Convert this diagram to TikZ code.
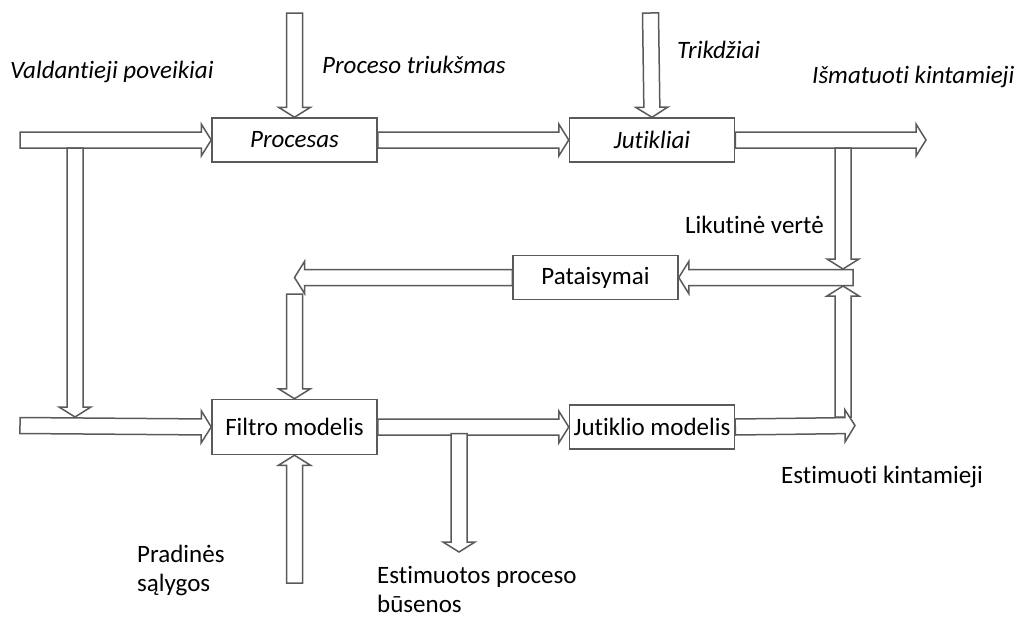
\documentclass[tikz,border=0pt]{standalone}
\usepackage{fontspec}
\setmainfont{Carlito}[Ligatures=NoCommon]
\usepackage{xcolor}
\usetikzlibrary{positioning,calc}
\definecolor{linegray}{HTML}{5A5A5A}
\def\shw{8pt}
\def\hdw{16pt}
\def\hdl{10pt}
\tikzset{%
	block/.style    = {draw=linegray, line width=1.5pt, fill=white, rectangle,
		minimum height = 44pt, minimum width = 165pt, inner sep=0pt},
	blockarrow/.style = {draw=linegray, line width=1.5pt, fill=white, line join=miter,
		to path={($(\tikztostart)!\shw!90:(\tikztotarget)$)
			-- ($($(\tikztotarget)!\hdl!(\tikztostart)$)!\shw!90:(\tikztotarget)$)
			-- ($($(\tikztotarget)!\hdl!(\tikztostart)$)!\hdw!90:(\tikztotarget)$)
			-- (\tikztotarget)
			-- ($($(\tikztotarget)!\hdl!(\tikztostart)$)!\hdw!-90:(\tikztotarget)$)
			-- ($($(\tikztotarget)!\hdl!(\tikztostart)$)!\shw!-90:(\tikztotarget)$)
			-- ($(\tikztostart)!\shw!-90:(\tikztotarget)$) -- cycle}},
	txt/.style      = {inner sep=0pt, anchor=west, align=left}
}
\begin{document}
\begin{tikzpicture}[x=1pt, y=-1pt, font=\fontsize{25}{29}\selectfont]
	\useasboundingbox (0,0) rectangle (1017,621);
	\draw
		node at (294.5,140)[block, name=proc]{\textit{Procesas}}
		node [block, right =191pt of proc] (jut) {\textit{Jutikliai}}
		node [block, minimum height=55pt, below =236pt of proc] (filt) {Filtro modelis}
		node [block, right =191pt of filt] (jmod) {Jutiklio modelis}
		node at (595.5,277.5)[block, name=pat]{Pataisymai};
	
	\coordinate (in1) at (20,140);
	\coordinate (in2) at (20,425.5);
	\coordinate (noise) at (294.5,13);
	\coordinate (dist) at (650.5,13);
	\coordinate (out) at (926,140);
	\coordinate (est) at (855,425.5);
	\coordinate (b1s) at (75,148);
	\coordinate (b1e) at (75,417);
	\coordinate (b2s) at (843,148);
	\coordinate (b2e) at (843,269);
	\coordinate (res) at (853,277.5);
	\coordinate (b3s) at (843,417);
	\coordinate (b3e) at (843,286);
	\coordinate (cor) at (294.5,277.5);
	\coordinate (cors) at (294.5,294);
	\coordinate (init) at (294.5,583);
	\coordinate (b4s) at (459,433.5);
	\coordinate (b4e) at (459,552);
	
	\draw[blockarrow] (in1) to (proc.west);
	\draw[blockarrow] (b1s) to (b1e);
	\draw[blockarrow] (noise) to (proc.north);
	\draw[blockarrow] (proc.east) to (jut.west);
	\draw[blockarrow] (dist) to (jut.north);
	\draw[blockarrow] (jut.east) to (out);
	\draw[blockarrow] (b2s) to (b2e);
	\draw[blockarrow] (res) to (pat.east);
	\draw[blockarrow] (b3s) to (b3e);
	\draw[blockarrow] (pat.west) to (cor);
	\draw[blockarrow] (cors) to (filt.north);
	\draw[blockarrow] (in2) to (filt.west);
	\draw[blockarrow] (init) to (filt.south);
	\draw[blockarrow] (filt.east) to (jmod.west);
	\draw[blockarrow] (b4s) to (b4e);
	\draw[blockarrow] (jmod.east) to (est);
	
	\node[txt] (l_ctrl) at (10,72) {\textit{Valdantieji poveikiai}};
	\node[txt] (l_noise) at (322,65) {\textit{Proceso triukšmas}};
	\node[txt] (l_dist) at (677,50) {\textit{Trikdžiai}};
	\node[txt] (l_meas) at (812,77) {\textit{Išmatuoti kintamieji}};
	\node[txt] (l_res) at (685,225) {Likutinė vertė};
	\node[txt] (l_init) at (137,570) {Pradinės\\sąlygos};
	\node[txt] (l_state) at (377,589) {Estimuotos proceso\\būsenos};
	\node[txt] (l_est) at (781,477) {Estimuoti kintamieji};
\end{tikzpicture}
\end{document}
